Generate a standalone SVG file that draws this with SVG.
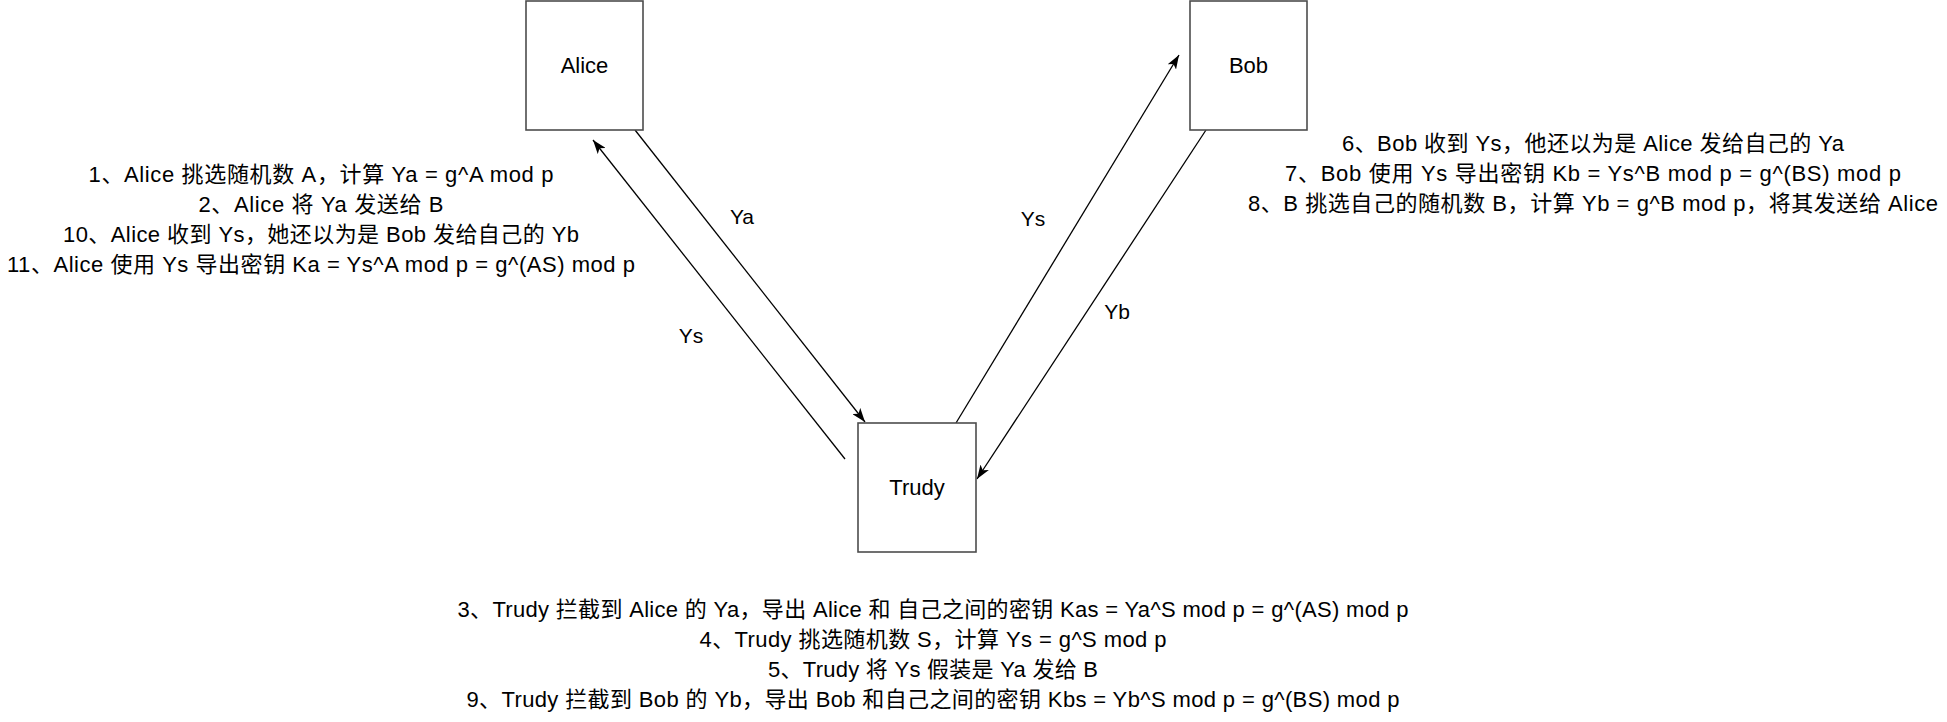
<svg xmlns="http://www.w3.org/2000/svg" width="1947" height="722" viewBox="0 0 1947 722">
<style>
  .box { fill: #ffffff; stroke: #4d4d4d; stroke-width: 1.6; }
  .lbl { font-family: "Liberation Sans", "Noto Sans CJK SC", sans-serif; font-size: 22px; fill: #000; text-anchor: middle; }
  .elbl { font-family: "Liberation Sans", "Noto Sans CJK SC", sans-serif; font-size: 21px; fill: #000; text-anchor: middle; }
  .edge { stroke: #000; stroke-width: 1.3; fill: none; marker-end: url(#arrow); }
</style>
<defs>
  <marker id="arrow" markerUnits="userSpaceOnUse" viewBox="0 0 14 10" refX="14" refY="5" markerWidth="14" markerHeight="10" orient="auto">
    <path d="M0,0 L14,5 L0,10 L3.5,5 Z" fill="#000"/>
  </marker>
</defs>
<rect width="1947" height="722" fill="#ffffff"/>

<g id="connectors">
  <g id="edge-alice-trudy">
    <line class="edge" x1="635" y1="130" x2="865" y2="422"/>
    <text class="elbl" x="742" y="224">Ya</text>
  </g>
  <g id="edge-trudy-alice">
    <line class="edge" x1="845" y1="459" x2="593" y2="140"/>
    <text class="elbl" x="691" y="343">Ys</text>
  </g>
  <g id="edge-trudy-bob">
    <line class="edge" x1="956" y1="423" x2="1179" y2="55"/>
    <text class="elbl" x="1033" y="226">Ys</text>
  </g>
  <g id="edge-bob-trudy">
    <line class="edge" x1="1206" y1="130" x2="977" y2="479"/>
    <text class="elbl" x="1117" y="319">Yb</text>
  </g>
</g>

<g id="alice">
  <rect class="box" x="526" y="1" width="117" height="129"/>
  <text class="lbl" x="584.5" y="73">Alice</text>
</g>
<g id="bob">
  <rect class="box" x="1190" y="1" width="117" height="129"/>
  <text class="lbl" x="1248.5" y="73">Bob</text>
</g>
<g id="trudy">
  <rect class="box" x="858" y="423" width="118" height="129"/>
  <text class="lbl" x="917" y="495">Trudy</text>
</g>

<g id="alice-notes">
  <text class="lbl" x="321" y="182" textLength="465" lengthAdjust="spacing">1、Alice 挑选随机数 A，计算 Ya = g^A mod p</text>
  <text class="lbl" x="321" y="212" textLength="245" lengthAdjust="spacing">2、Alice 将 Ya 发送给 B</text>
  <text class="lbl" x="321" y="242" textLength="516" lengthAdjust="spacing">10、Alice 收到 Ys，她还以为是 Bob 发给自己的 Yb</text>
  <text class="lbl" x="321" y="272" textLength="628" lengthAdjust="spacing">11、Alice 使用 Ys 导出密钥 Ka = Ys^A mod p = g^(AS) mod p</text>
</g>
<g id="bob-notes">
  <text class="lbl" x="1593" y="151" textLength="502" lengthAdjust="spacing">6、Bob 收到 Ys，他还以为是 Alice 发给自己的 Ya</text>
  <text class="lbl" x="1593" y="181" textLength="616" lengthAdjust="spacing">7、Bob 使用 Ys 导出密钥 Kb = Ys^B mod p = g^(BS) mod p</text>
  <text class="lbl" x="1593" y="211" textLength="690" lengthAdjust="spacing">8、B 挑选自己的随机数 B，计算 Yb = g^B mod p，将其发送给 Alice</text>
</g>
<g id="trudy-notes">
  <text class="lbl" x="933" y="617" textLength="951" lengthAdjust="spacing">3、Trudy 拦截到 Alice 的 Ya，导出 Alice 和 自己之间的密钥 Kas = Ya^S mod p = g^(AS) mod p</text>
  <text class="lbl" x="933" y="647" textLength="467" lengthAdjust="spacing">4、Trudy 挑选随机数 S，计算 Ys = g^S mod p</text>
  <text class="lbl" x="933" y="677" textLength="330" lengthAdjust="spacing">5、Trudy 将 Ys 假装是 Ya 发给 B</text>
  <text class="lbl" x="933" y="707" textLength="933" lengthAdjust="spacing">9、Trudy 拦截到 Bob 的 Yb，导出 Bob 和自己之间的密钥 Kbs = Yb^S mod p = g^(BS) mod p</text>
</g>
</svg>
